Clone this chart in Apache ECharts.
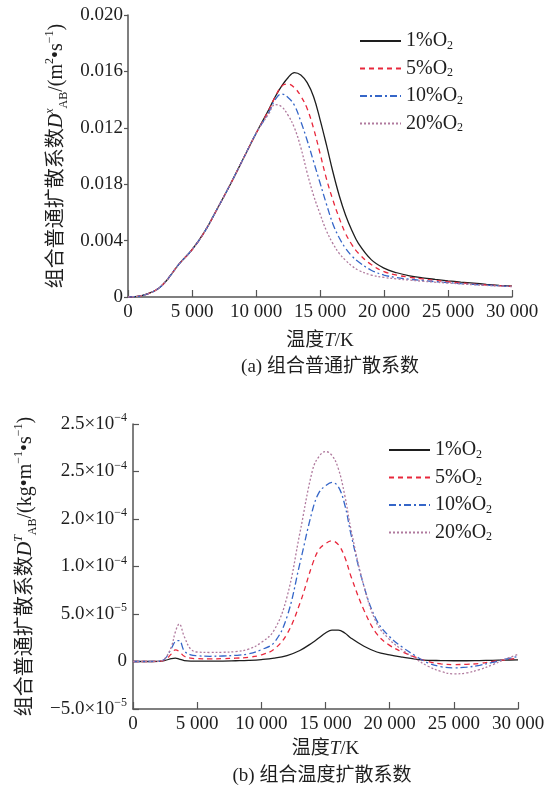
<!DOCTYPE html>
<html><head><meta charset="utf-8">
<script src="https://cdn.jsdelivr.net/npm/echarts@6/dist/echarts.min.js"></script>
<style>html,body{margin:0;padding:0;background:#fff}#c{width:555px;height:794px}</style>
</head><body><div id="c"></div><script>
// ---- (a) combined ordinary diffusion coefficient, values in units of 1e-3 m^2/s
const tempA = [0,1000,2000,2500,3000,3500,4000,5000,6000,7000,8000,9000,10000,11000,11500,12000,12500,13000,13500,14000,14500,15000,15500,16000,16500,17000,17500,18000,19000,20000,21000,22000,23000,24000,25000,26000,27000,28000,29000,30000];
const a_O2_1  = [0,0.08,0.40,0.70,1.15,1.75,2.35,3.35,4.65,6.30,8.00,9.80,11.60,13.30,14.20,14.95,15.55,15.92,15.75,15.20,14.20,12.60,10.80,8.90,7.20,5.80,4.70,3.80,2.65,2.05,1.72,1.50,1.36,1.25,1.15,1.06,0.98,0.90,0.83,0.77];
const a_O2_5  = [0,0.08,0.40,0.70,1.15,1.75,2.35,3.35,4.65,6.30,8.00,9.80,11.60,13.25,14.20,14.95,15.10,14.85,14.25,13.35,11.95,10.20,8.40,6.90,5.60,4.50,3.70,3.10,2.30,1.80,1.55,1.40,1.28,1.18,1.08,1.00,0.92,0.85,0.80,0.76];
const a_O2_10 = [0,0.08,0.40,0.70,1.15,1.75,2.35,3.35,4.65,6.30,8.00,9.80,11.60,13.10,14.00,14.40,14.15,13.60,12.45,11.10,9.60,8.10,6.60,5.20,4.20,3.45,2.90,2.50,1.90,1.56,1.38,1.26,1.17,1.09,1.02,0.95,0.89,0.84,0.79,0.75];
const a_O2_20 = [0,0.08,0.40,0.70,1.15,1.75,2.35,3.35,4.65,6.30,8.00,9.80,11.60,13.00,13.65,13.50,12.90,12.00,10.60,8.80,7.20,5.90,4.70,3.80,3.10,2.60,2.20,1.90,1.56,1.39,1.28,1.20,1.12,1.05,0.99,0.93,0.87,0.82,0.78,0.74];
const a_yTickLabels = ['0','0.004','0.018','0.012','0.016','0.020'];

// ---- (b) combined thermal diffusion coefficient, values in axis units (1 unit = 1e-5)
const tempB = [0,1000,2000,2500,3000,3300,3600,4000,4500,5000,6000,7000,8000,9000,10000,11000,12000,13000,14000,14500,15000,15500,16000,16500,17000,18000,19000,20000,21000,22000,23000,24000,25000,26000,27000,28000,29000,30000];
const b_O2_1  = [0,0,0.02,0.12,0.3,0.35,0.25,0.1,0.05,0.05,0.05,0.05,0.08,0.12,0.2,0.35,0.63,1.16,2.0,2.5,3.0,3.3,3.3,3.0,2.45,1.6,1.0,0.7,0.46,0.25,0.12,0.1,0.08,0.08,0.1,0.12,0.15,0.18];
const b_O2_5  = [0,0,0.02,0.2,0.8,1.22,1.05,0.55,0.35,0.3,0.28,0.3,0.35,0.45,0.7,1.3,2.9,6.1,10.3,11.8,12.4,12.7,12.3,11.0,8.9,5.4,2.9,1.7,1.0,0.45,0.0,-0.25,-0.32,-0.3,-0.2,0.0,0.18,0.35];
const b_O2_10 = [0,0,0.02,0.3,1.4,2.1,2.2,1.1,0.7,0.6,0.55,0.58,0.65,0.8,1.25,2.0,4.7,10.3,16.0,17.8,18.5,18.85,18.4,16.5,13.3,7.9,4.3,2.6,1.5,0.6,-0.15,-0.55,-0.67,-0.6,-0.4,-0.1,0.25,0.53];
const b_O2_20 = [0,0,0.02,0.35,1.6,3.1,3.95,2.6,1.3,1.0,0.95,0.97,1.05,1.3,2.0,3.3,6.8,13.5,20.2,21.6,22.1,21.7,20.3,17.5,13.8,7.9,4.0,2.3,1.2,0.3,-0.5,-1.05,-1.3,-1.2,-0.85,-0.35,0.25,0.74];
const b_yTickMant = ['−5.0×10','0','5.0×10','1.0×10','2.0×10','2.5×10','2.5×10'];
const b_yTickExp  = ['−5','','−5','−4','−4','−4','−4'];

const xTickLabels = ['0','5 000','10 000','15 000','20 000','25 000','30 000'];
const seriesNames = ['1%O2','5%O2','10%O2','20%O2'];

const FF = "'Liberation Serif','Noto Sans CJK SC',serif";
const TXT = '#1e1e1e';
const AX = '#555';
const styles = [
  {color:'#1e1e1e', width:1.3, type:'solid'},
  {color:'#e8283c', width:1.3, type:[5,4]},
  {color:'#3566c8', width:1.3, type:[7,3,2,3]},
  {color:'#b07a9e', width:1.3, type:[2,2]}
];
function richBase(fs){
  return {
    c:{fontFamily:FF, fontSize:fs, color:TXT, lineHeight:26},
    i:{fontFamily:FF, fontSize:fs, color:TXT, fontStyle:'italic', lineHeight:26},
    t:{fontFamily:FF, fontSize:fs, color:TXT, lineHeight:26},
    sup:{fontFamily:FF, fontSize:12, color:TXT, fontStyle:'italic', verticalAlign:'top', lineHeight:14},
    sub:{fontFamily:FF, fontSize:12, color:TXT, verticalAlign:'bottom', lineHeight:14},
    sp:{fontFamily:FF, fontSize:12, color:TXT, verticalAlign:'top', lineHeight:14}
  };
}

function xAxisCfg(idx, gap){
  return {
    type:'value', gridIndex:idx, min:0, max:30000, interval:5000,
    axisLine:{show:true, onZero:false, lineStyle:{color:AX, width:1.5}},
    axisTick:{show:true, inside:true, length:7, lineStyle:{color:AX, width:1.2}},
    axisLabel:{margin:6, fontFamily:FF, fontSize:19, color:TXT,
      formatter:v=>xTickLabels[Math.round(v/5000)]},
    splitLine:{show:false},
    name:'{c|温度}{i|T}{t|/K}', nameLocation:'middle', nameGap:gap,
    nameTextStyle:{rich:richBase(19)}
  };
}

const legendFmt = n => '{n|' + n.replace('O2','O') + '}{s|2}';
function legendCfg(left, top){
  return {
    orient:'vertical', left:left, top:top, itemWidth:41, itemHeight:14, itemGap:7,
    selectedMode:false, data:seriesNames, formatter:legendFmt,
    itemStyle:{opacity:0, borderWidth:0},
    textStyle:{rich:{
      n:{fontFamily:FF, fontSize:20, color:TXT, lineHeight:21},
      s:{fontFamily:FF, fontSize:12, color:TXT, verticalAlign:'bottom', lineHeight:12}
    }}
  };
}

const aData = [a_O2_1, a_O2_5, a_O2_10, a_O2_20];
const bData = [b_O2_1, b_O2_5, b_O2_10, b_O2_20];
const series = [];
aData.forEach((arr,k)=>series.push({
  type:'line', name:seriesNames[k], xAxisIndex:0, yAxisIndex:0, symbol:'none', smooth:0.4,
  lineStyle:styles[k], itemStyle:{color:styles[k].color},
  data:tempA.map((t,i)=>[t, arr[i]])
}));
bData.forEach((arr,k)=>series.push({
  type:'line', name:seriesNames[k], xAxisIndex:1, yAxisIndex:1, symbol:'none', smooth:0.4,
  lineStyle:styles[k], itemStyle:{color:styles[k].color},
  data:tempB.map((t,i)=>[t, arr[i]])
}));

const option = {
  backgroundColor:'#fff',
  animation:false,
  grid:[
    {left:128, top:15, width:384, height:282},
    {left:133, top:424, width:385, height:285}
  ],
  xAxis:[xAxisCfg(0, 31), xAxisCfg(1, 27)],
  yAxis:[
    {type:'value', gridIndex:0, min:0, max:20, interval:4,
     axisLine:{show:true, lineStyle:{color:AX, width:1.5}},
     axisTick:{show:true, inside:false, length:4, lineStyle:{color:AX, width:1.2}},
     axisLabel:{margin:5, fontFamily:FF, fontSize:19, color:TXT,
       formatter:v=>a_yTickLabels[Math.round(v/4)]},
     splitLine:{show:false},
     name:'{c|组合普通扩散系数}{i|D}{sup|x}{sub|AB}{t|/(m}{sp|2}{t|•s}{sp|−1}{t|)}',
     nameLocation:'middle', nameRotate:90, nameGap:48,
     nameTextStyle:{rich:richBase(20)}
    },
    {type:'value', gridIndex:1, min:-5, max:25, interval:5,
     axisLine:{show:true, onZero:false, lineStyle:{color:AX, width:1.5}},
     axisTick:{show:true, inside:true, length:6, lineStyle:{color:AX, width:1.2}},
     axisLabel:{margin:6, color:TXT,
       formatter:v=>{const i=Math.round((v+5)/5); return b_yTickExp[i] ? '{a|'+b_yTickMant[i]+'}{s|'+b_yTickExp[i]+'}' : '{a|'+b_yTickMant[i]+'}';},
       rich:{a:{fontFamily:FF, fontSize:19, color:TXT, lineHeight:24},
             s:{fontFamily:FF, fontSize:12, color:TXT, verticalAlign:'top', lineHeight:12}}},
     splitLine:{show:false},
     name:'{c|组合普通扩散系数}{i|D}{sup|T}{sub|AB}{t|/(kg•m}{sp|−1}{t|•s}{sp|−1}{t|)}',
     nameLocation:'middle', nameRotate:90, nameGap:91,
     nameTextStyle:{rich:richBase(20)}
    }
  ],
  legend:[legendCfg(354, 26), legendCfg(383, 435)],
  series:series,
  graphic:[
    {type:'text', x:330, y:367, style:{text:'(a) 组合普通扩散系数', font:"19px "+FF, fill:TXT, textAlign:'center', textVerticalAlign:'middle'}},
    {type:'text', x:322, y:776, style:{text:'(b) 组合温度扩散系数', font:"19px "+FF, fill:TXT, textAlign:'center', textVerticalAlign:'middle'}}
  ]
};
const chart = echarts.init(document.getElementById('c'), null, {renderer:'canvas'});
chart.setOption(option);
</script></body></html>
